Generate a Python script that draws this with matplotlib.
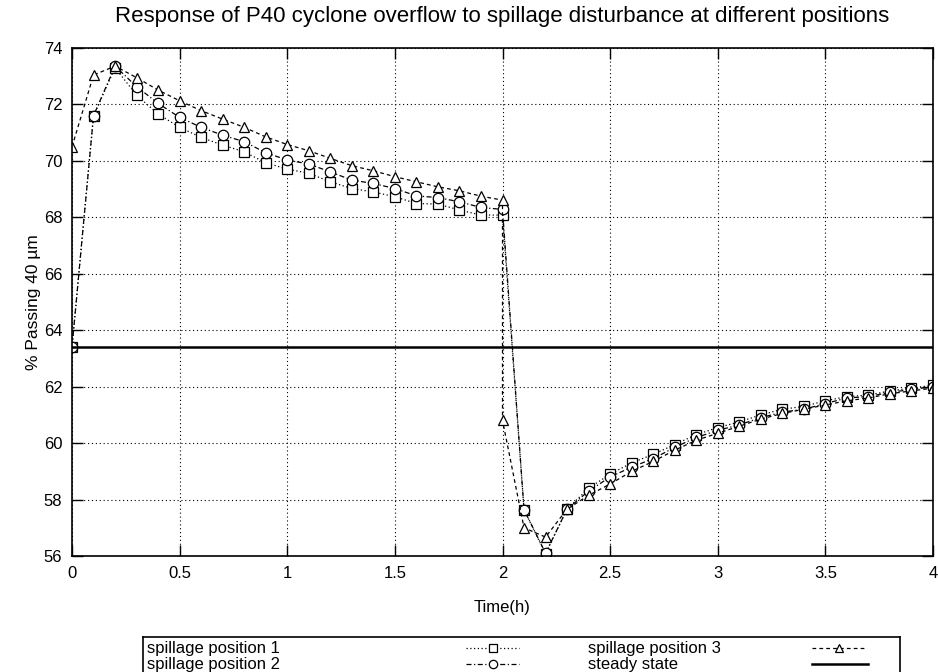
import matplotlib.pyplot as plt

plt.rcParams['font.family'] = ['Liberation Sans', 'DejaVu Sans']

# time grid (h)
t = [0.0, 0.1, 0.2, 0.3, 0.4, 0.5, 0.6, 0.7, 0.8, 0.9,
     1.0, 1.1, 1.2, 1.3, 1.4, 1.5, 1.6, 1.7, 1.8, 1.9,
     2.0, 2.1, 2.2, 2.3, 2.4, 2.5, 2.6, 2.7, 2.8, 2.9,
     3.0, 3.1, 3.2, 3.3, 3.4, 3.5, 3.6, 3.7, 3.8, 3.9, 4.0]

pos1 = [63.4, 71.6, 73.3, 72.33, 71.66, 71.19, 70.83, 70.56, 70.32, 69.93,
        69.71, 69.56, 69.26, 69.02, 68.9, 68.73, 68.49, 68.47, 68.26, 68.08,
        68.08, 57.64, 56.08, 57.66, 58.4, 58.9, 59.3, 59.6, 59.95, 60.3,
        60.55, 60.75, 61.0, 61.2, 61.3, 61.5, 61.65, 61.7, 61.85, 61.95, 62.05]

pos2 = [63.4, 71.6, 73.36, 72.63, 72.04, 71.54, 71.19, 70.91, 70.68, 70.29,
        70.03, 69.89, 69.61, 69.32, 69.2, 69.02, 68.76, 68.7, 68.55, 68.35,
        68.28, 57.64, 56.1, 57.66, 58.3, 58.8, 59.15, 59.45, 59.85, 60.2,
        60.45, 60.65, 60.9, 61.1, 61.2, 61.4, 61.6, 61.65, 61.8, 61.9, 62.0]

# position 3 has two values at t = 2.0
t3 = [0.0, 0.1, 0.2, 0.3, 0.4, 0.5, 0.6, 0.7, 0.8, 0.9,
      1.0, 1.1, 1.2, 1.3, 1.4, 1.5, 1.6, 1.7, 1.8, 1.9,
      2.0, 2.0, 2.1, 2.2, 2.3, 2.4, 2.5, 2.6, 2.7, 2.8, 2.9,
      3.0, 3.1, 3.2, 3.3, 3.4, 3.5, 3.6, 3.7, 3.8, 3.9, 4.0]

pos3 = [70.5, 73.04, 73.36, 72.95, 72.51, 72.13, 71.78, 71.48, 71.19, 70.85,
        70.58, 70.36, 70.09, 69.83, 69.65, 69.44, 69.26, 69.08, 68.94, 68.75,
        68.61, 60.81, 57.0, 56.67, 57.66, 58.15, 58.55, 59.0, 59.35, 59.75, 60.1,
        60.35, 60.6, 60.85, 61.05, 61.2, 61.35, 61.5, 61.6, 61.75, 61.85, 61.95]

steady = 63.4

fig = plt.figure(figsize=(9.38, 6.72), dpi=100)
ax = fig.add_axes([72 / 938, 1 - 556 / 672, 861 / 938, 508 / 672])

mk = dict(color='black', lw=0.9, mfc='white', mec='black', mew=0.9)
ax.plot(t, pos1, ls=(0, (1, 2)), marker='s', ms=7.5, **mk)
ax.plot(t, pos2, ls=(0, (4, 2, 1, 2)), marker='o', ms=7.5, **mk)
ax.plot(t3, pos3, ls=(0, (3, 2.5)), marker='^', ms=7.5, **mk)
ax.axhline(steady, color='black', lw=1.8)

ax.set_xlim(0, 4)
ax.set_ylim(56, 74)
ax.set_xticks([0, 0.5, 1, 1.5, 2, 2.5, 3, 3.5, 4])
ax.set_xticklabels(['0', '0.5', '1', '1.5', '2', '2.5', '3', '3.5', '4'])
ax.set_yticks(range(56, 75, 2))
ax.tick_params(direction='in', top=True, right=True, length=8, width=1,
               labelsize=12, pad=7)
ax.grid(True, color='black', ls=(0, (1, 2.5)), lw=0.8)
for s in ax.spines.values():
    s.set_linewidth(1.2)

ax.set_xlabel('Time(h)', fontsize=12, labelpad=14)
ax.set_ylabel('% Passing 40 µm', fontsize=12.5, labelpad=2)
ax.set_title('Response of P40 cyclone overflow to spillage disturbance at different positions',
             fontsize=16, pad=19)

# legend box drawn below the plot, in pixel units
lax = fig.add_axes([143 / 938, -0.02, 757 / 938, 35 / 672 + 0.02])
lax.set_xlim(143, 900)
lax.set_ylim(672 + 13.44, 637)
lax.set_xticks([])
lax.set_yticks([])
for s in lax.spines.values():
    s.set_linewidth(1.2)

rows = [648, 664]
entries = [
    ('spillage position 1', 147, 466, 519, (0, (1, 2)), 's'),
    ('spillage position 2', 147, 466, 519, (0, (4, 2, 1, 2)), 'o'),
    ('spillage position 3', 588, 812, 865, (0, (3, 2.5)), '^'),
    ('steady state', 588, 812, 868, '-', None),
]
for i, (lab, xt, x0, x1, ls, m) in enumerate(entries):
    y = rows[i % 2]
    lax.text(xt, y, lab, fontsize=12, va='center', ha='left')
    lw = 1.8 if m is None else 0.9
    lax.plot([x0, x1], [y, y], color='black', ls=ls, lw=lw)
    if m is not None:
        lax.plot([(x0 + x1) / 2], [y], marker=m, ms=6, color='black',
                 mfc='white', mew=0.9)

fig.savefig('out.png', dpi=100)
